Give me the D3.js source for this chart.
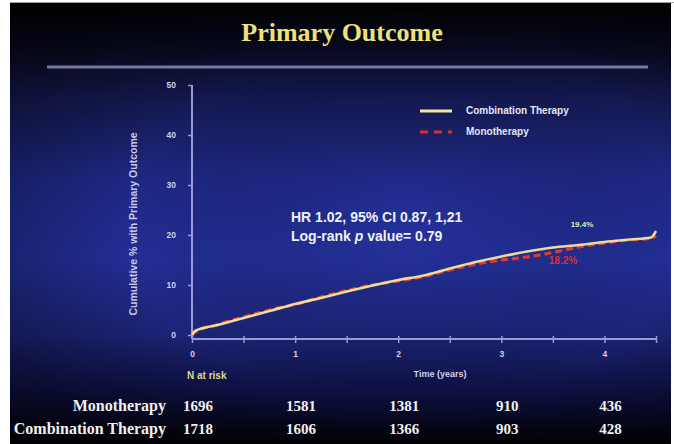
<!DOCTYPE html>
<html><head><meta charset="utf-8">
<script src="https://cdn.jsdelivr.net/npm/d3@7/dist/d3.min.js"></script>
<style>html,body{margin:0;padding:0;background:#fff;}svg{display:block;}</style>
</head><body>
<svg id="c" width="674" height="444"></svg>
<script>
// ---- data ----
const times = [0, 0.03, 0.25, 0.5, 0.75, 1.0, 1.25, 1.5, 1.75, 2.0, 2.25, 2.5, 2.75, 3.0, 3.25, 3.5, 3.75, 4.0, 4.25, 4.45, 4.5];
const combination = [0, 0.8, 2.0, 3.4, 4.8, 6.2, 7.4, 8.7, 9.9, 11.0, 11.9, 13.3, 14.6, 15.7, 16.7, 17.5, 18.0, 18.6, 19.1, 19.5, 20.8];
const monotherapy = [0, 0.6, 2.1, 3.6, 5.0, 6.1, 7.6, 8.9, 10.0, 10.8, 11.7, 13.0, 14.2, 15.0, 15.6, 16.5, 17.6, 18.4, 19.0, 19.3, 19.8];
const yTicks = [0, 10, 20, 30, 40, 50];
const xTicks = [0, 1, 2, 3, 4];
const riskTimes = [0, 1, 2, 3, 4];
const riskMono = [1696, 1581, 1381, 910, 436];
const riskCombo = [1718, 1606, 1366, 903, 428];
const seriesNames = ["Combination Therapy", "Monotherapy"];

const svg = d3.select("#c");
const defs = svg.append("defs");
const lg = defs.append("linearGradient").attr("id","bg").attr("x1",0).attr("y1",0).attr("x2",0).attr("y2",1);
[[0,"#000000"],[0.1,"#08091e"],[0.22,"#141950"],[0.4,"#1e2884"],[0.58,"#222e94"],[0.75,"#1c2476"],[0.88,"#0e1042"],[1,"#010104"]]
  .forEach(s=>lg.append("stop").attr("offset",s[0]).attr("stop-color",s[1]));
const rg = defs.append("radialGradient").attr("id","vig").attr("cx",0.6).attr("cy",0.5).attr("r",0.7);
rg.append("stop").attr("offset",0).attr("stop-color","#3040c0").attr("stop-opacity",0.25);
rg.append("stop").attr("offset",0.6).attr("stop-color","#000").attr("stop-opacity",0);
rg.append("stop").attr("offset",1).attr("stop-color","#000").attr("stop-opacity",0.35);

svg.append("rect").attr("x",10).attr("y",3).attr("width",661).attr("height",441).attr("fill","url(#bg)");
svg.append("rect").attr("x",10).attr("y",3).attr("width",661).attr("height",441).attr("fill","url(#vig)");
svg.append("line").attr("x1",10).attr("x2",674).attr("y1",2.5).attr("y2",2.5).attr("stroke","#a0a0a0").attr("stroke-width",1);

// title
svg.append("text").attr("x",342).attr("y",41).attr("text-anchor","middle")
  .attr("font-family","'Liberation Serif','Times New Roman',serif").attr("font-weight","bold").attr("font-size",26)
  .attr("fill","#ece27a").text("Primary Outcome");
svg.append("line").attr("x1",47).attr("x2",648).attr("y1",67).attr("y2",67)
  .attr("stroke","#8a8ab8").attr("stroke-width",3).attr("opacity",0.85);

// scales
const x = d3.scaleLinear().domain([0,4.5]).range([192,656]);
const y = d3.scaleLinear().domain([0,50]).range([335,85]);
const axisColor = "#9a9ad8";
const axisY0 = y(0) + 4;

// y axis
const ya = svg.append("g").attr("transform",`translate(${x(0)},0)`)
  .call(d3.axisLeft(y).tickValues(yTicks).tickSize(4).tickPadding(12));
ya.select(".domain").remove();
ya.append("line").attr("x1",0).attr("x2",0).attr("y1",y(50)).attr("y2",axisY0).attr("stroke",axisColor).attr("stroke-width",2);
ya.selectAll(".tick line").attr("stroke",axisColor).attr("stroke-width",1.5);
ya.selectAll(".tick text").attr("fill","#d0d0ec").attr("font-family","'Liberation Sans',Arial,sans-serif")
  .attr("font-weight","bold").attr("font-size",8.5);

// x axis
const xa = svg.append("g").attr("transform",`translate(0,${axisY0})`)
  .call(d3.axisBottom(x).tickValues(d3.range(0,4.51,0.5)).tickSize(4).tickPadding(8)
    .tickFormat(d => Number.isInteger(d) ? d : ""));
xa.select(".domain").remove();
xa.append("line").attr("x1",x(0)).attr("x2",x(4.5)).attr("y1",0).attr("y2",0).attr("stroke",axisColor).attr("stroke-width",2);
xa.selectAll(".tick line").attr("stroke",axisColor).attr("stroke-width",1.5).attr("y1",-3);
xa.selectAll(".tick text").attr("fill","#d0d0ec").attr("font-family","'Liberation Sans',Arial,sans-serif")
  .attr("font-weight","bold").attr("font-size",8.5);

// axis titles
svg.append("text").attr("transform",`translate(137,224) rotate(-90)`).attr("text-anchor","middle")
  .attr("font-family","'Liberation Sans',Arial,sans-serif").attr("font-size",10.5).attr("font-weight","bold")
  .attr("fill","#c8c8e8").text("Cumulative % with Primary Outcome");
svg.append("text").attr("x",440).attr("y",377).attr("text-anchor","middle")
  .attr("font-family","'Liberation Sans',Arial,sans-serif").attr("font-size",9).attr("font-weight","bold")
  .attr("fill","#d0d0ec").text("Time (years)");
svg.append("text").attr("x",187).attr("y",379)
  .attr("font-family","'Liberation Sans',Arial,sans-serif").attr("font-size",10).attr("font-weight","bold")
  .attr("fill","#dcd890").text("N at risk");

// curves
const line = d3.line().x((d,i)=>x(times[i])).y(d=>y(d)).curve(d3.curveMonotoneX);
svg.append("path").datum(monotherapy).attr("d",line).attr("fill","none")
  .attr("stroke","#e03a2a").attr("stroke-width",3.2).attr("stroke-dasharray","7,4");
svg.append("path").datum(combination).attr("d",line).attr("fill","none")
  .attr("stroke","#f2e6a0").attr("stroke-width",2.6).attr("opacity",0.95);

// end labels
svg.append("text").attr("x",582).attr("y",227).attr("text-anchor","middle")
  .attr("font-family","'Liberation Sans',Arial,sans-serif").attr("font-size",8).attr("font-weight","bold")
  .attr("fill","#e8e2b0").text("19.4%");
svg.append("text").attr("x",563).attr("y",264).attr("text-anchor","middle")
  .attr("font-family","'Liberation Sans',Arial,sans-serif").attr("font-size",10).attr("font-weight","bold")
  .attr("fill","#d8302a").text("18.2%");

// stats annotation
const ann = svg.append("g").attr("font-family","'Liberation Sans',Arial,sans-serif").attr("font-size",14)
  .attr("font-weight","bold").attr("fill","#f0f0fa");
ann.append("text").attr("x",291).attr("y",222).text("HR 1.02, 95% CI 0.87, 1,21");
const l2 = ann.append("text").attr("x",291).attr("y",241);
l2.append("tspan").text("Log-rank ");
l2.append("tspan").attr("font-style","italic").text("p");
l2.append("tspan").text(" value= 0.79");

// legend
const legend = svg.append("g");
legend.append("line").attr("x1",420).attr("x2",452).attr("y1",111).attr("y2",111)
  .attr("stroke","#f2e6a0").attr("stroke-width",3);
legend.append("line").attr("x1",420).attr("x2",452).attr("y1",132).attr("y2",132)
  .attr("stroke","#d8302a").attr("stroke-width",3).attr("stroke-dasharray","8,6");
legend.selectAll("text").data(seriesNames).join("text")
  .attr("x",466).attr("y",(d,i)=>114+i*21)
  .attr("font-family","'Liberation Sans',Arial,sans-serif").attr("font-size",10).attr("font-weight","bold")
  .attr("fill","#e4e4f4").text(d=>d);

// at risk table
const serif = "'Liberation Serif','Times New Roman',serif";
const rows = [{name:"Monotherapy", vals:riskMono},{name:"Combination Therapy", vals:riskCombo}];
rows.forEach((r,ri)=>{
  const yy = 411 + ri*23;
  svg.append("text").attr("x",166).attr("y",yy).attr("text-anchor","end")
    .attr("font-family",serif).attr("font-weight","bold").attr("font-size",16).attr("fill","#f0f0f0").text(r.name);
  svg.append("g").selectAll("text").data(r.vals).join("text")
    .attr("x",(d,i)=>x(riskTimes[i])+6).attr("y",yy).attr("text-anchor","middle")
    .attr("font-family",serif).attr("font-weight","bold").attr("font-size",15).attr("fill","#f0f0f0").text(d=>d);
});
</script>
</body></html>
